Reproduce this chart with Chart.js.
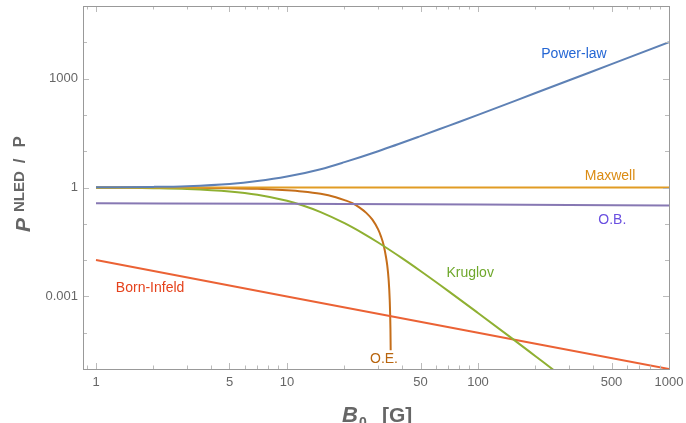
<!DOCTYPE html>
<html>
<head>
<meta charset="utf-8">
<script src="https://cdn.jsdelivr.net/npm/chart.js@4.4.1/dist/chart.umd.min.js"></script>
<style>
    html, body { margin: 0; padding: 0; background: #fff; }
</style>
</head>
<body>
<canvas id="chart" width="686" height="423"></canvas>
<script>
/*global Chart*/
(function () {
    "use strict";

    // B0 [G] and P^NLED / P
    var powerLawB = [1, 2, 3, 5, 7, 10, 15, 20, 30, 50, 70, 100, 200, 300, 500, 1000];
    var powerLawP = [1.01, 1.04, 1.09, 1.25, 1.5, 2, 3.2, 5, 10, 26, 50, 100, 400, 900, 2500, 10000];

    var maxwellB = [1, 1000];
    var maxwellP = [1, 1];

    var obB = [1, 10, 100, 1000];
    var obP = [0.37, 0.355, 0.34, 0.32];

    var kruglovB = [1, 1.5, 2, 3, 5, 7, 10, 12, 15, 20, 25, 30, 40, 50, 70, 100, 150, 200, 250, 300];
    var kruglovP = [0.99, 0.977, 0.959, 0.912, 0.781, 0.633, 0.43, 0.324, 0.21, 0.104, 0.0546, 0.0305,
        0.0113, 0.005, 0.0014, 0.00035, 0.000071, 0.0000225, 0.0000092, 0.0000045];

    var bornInfeldB = [1, 10, 100, 1000];
    var bornInfeldP = [0.01, 0.001, 0.0001, 0.00001];

    var oeB = [1, 2, 3, 5, 7, 10, 12, 15, 18, 20, 22, 24, 26, 28, 30, 31, 32, 33, 33.5, 34, 34.5, 34.8, 34.9];
    var oeP = [0.998, 0.994, 0.985, 0.96, 0.92, 0.84, 0.78, 0.67, 0.54, 0.45, 0.37, 0.28, 0.2, 0.13,
        0.07, 0.046, 0.027, 0.012, 0.007, 0.0032, 0.0008, 0.00013, 0.000033];

    var xTicks = [0.9, 1, 2, 3, 4, 5, 6, 7, 8, 9, 10, 20, 30, 40, 50, 60, 70, 80, 90,
        100, 200, 300, 400, 500, 600, 700, 800, 900, 1000];
    var xTickLabels = [1, 5, 10, 50, 100, 500, 1000];
    var yTicks = [1e-5, 1e-4, 0.001, 0.01, 0.1, 1, 10, 100, 1000, 1e4, 1e5];
    var yTickLabels = [0.001, 1, 1000];

    var curveNames = ["Power-law", "Maxwell", "O.B.", "Kruglov", "Born-Infeld", "O.E."];

    var zip = function (xs, ys) {
        return xs.map(function (x, i) {
            return {x: x, y: ys[i]};
        });
    };

    var series = [
        {data: zip(powerLawB, powerLawP), color: "#5E81B5"},
        {data: zip(maxwellB, maxwellP), color: "#E19C24"},
        {data: zip(obB, obP), color: "#8778B3"},
        {data: zip(kruglovB, kruglovP), color: "#8FB032"},
        {data: zip(bornInfeldB, bornInfeldP), color: "#EB6235"},
        {data: zip(oeB, oeP), color: "#C56E1A"}
    ];

    // where each curve's name sits, in data coordinates
    var labelSpots = [
        {x: 318, y: 4700, color: "#2466D4"},
        {x: 491, y: 2.0, color: "#DB8C14"},
        {x: 505, y: 0.13, color: "#6A4FE0"},
        {x: 91, y: 0.0045, color: "#6FA82C"},
        {x: 1.92, y: 0.0017, color: "#E5421C"},
        {x: 32.2, y: 0.000019, color: "#B8650F"}
    ];

    var frame = {
        id: "frame",
        afterDatasetsDraw: function (chart) {
            var ctx = chart.ctx,
                a = chart.chartArea,
                sx = chart.scales.x,
                sy = chart.scales.y;

            ctx.save();
            ctx.strokeStyle = "#bbb";
            ctx.lineWidth = 1;
            ctx.beginPath();
            xTicks.forEach(function (v) {
                var px = Math.round(sx.getPixelForValue(v)) + 0.5,
                    len = xTickLabels.indexOf(v) >= 0 ? 6 : 3.5;
                ctx.moveTo(px, a.bottom);
                ctx.lineTo(px, a.bottom - len);
                ctx.moveTo(px, a.top);
                ctx.lineTo(px, a.top + len);
            });
            yTicks.forEach(function (v) {
                var py = Math.round(sy.getPixelForValue(v)) + 0.5,
                    len = yTickLabels.indexOf(v) >= 0 ? 6 : 4;
                ctx.moveTo(a.left, py);
                ctx.lineTo(a.left + len, py);
                ctx.moveTo(a.right, py);
                ctx.lineTo(a.right - len, py);
            });
            ctx.stroke();

            ctx.strokeStyle = "#999";
            ctx.strokeRect(Math.round(a.left) + 0.5, Math.round(a.top) + 0.5,
                Math.round(a.right - a.left), Math.round(a.bottom - a.top));

            // curve names
            ctx.font = "14px 'Liberation Sans', Arial, sans-serif";
            ctx.textAlign = "center";
            ctx.textBaseline = "middle";
            curveNames.forEach(function (name, i) {
                ctx.fillStyle = labelSpots[i].color;
                ctx.fillText(name, sx.getPixelForValue(labelSpots[i].x), sy.getPixelForValue(labelSpots[i].y));
            });

            // axis titles
            ctx.fillStyle = "#666";
            ctx.textAlign = "left";
            ctx.textBaseline = "alphabetic";
            var x = 342;
            ctx.font = "italic bold 22px 'Liberation Sans', Arial, sans-serif";
            ctx.fillText("B", x, 422);
            x += ctx.measureText("B").width + 1;
            ctx.font = "bold 14px 'Liberation Sans', Arial, sans-serif";
            ctx.fillText("0", x, 427);
            x = 382;
            ctx.font = "bold 21px 'Liberation Sans', Arial, sans-serif";
            ctx.fillText("[G]", x, 422);

            ctx.translate(30, 232);
            ctx.rotate(-Math.PI / 2);
            var t = 0;
            ctx.font = "italic bold 21px 'Liberation Sans', Arial, sans-serif";
            ctx.fillText("P", t, 0);
            t += ctx.measureText("P").width + 6;
            ctx.font = "bold 15px 'Liberation Sans', Arial, sans-serif";
            ctx.fillText("NLED", t, -6);
            t += ctx.measureText("NLED").width + 8;
            ctx.font = "bold 17px 'Liberation Sans', Arial, sans-serif";
            ctx.fillText("/", t, -5);
            t += ctx.measureText("/").width + 11;
            ctx.fillText("P", t, -5);
            ctx.restore();
        }
    };

    var tickFont = {family: "'Liberation Sans', Arial, sans-serif", size: 13};

    var ctx = window.document.getElementById("chart");
    new Chart(ctx, {
        type: "line",
        data: {
            datasets: series.map(function (s) {
                return {
                    data: s.data,
                    borderColor: s.color,
                    borderWidth: 2,
                    pointRadius: 0,
                    fill: false,
                    cubicInterpolationMode: "monotone"
                };
            })
        },
        options: {
            responsive: false,
            animation: false,
            events: [],
            layout: {padding: {top: 6, right: 17, left: 0, bottom: 0}},
            plugins: {legend: {display: false}, tooltip: {enabled: false}},
            scales: {
                x: {
                    type: "logarithmic",
                    min: 0.855,
                    max: 1000,
                    grid: {display: false, drawTicks: false},
                    border: {display: false},
                    afterBuildTicks: function (scale) {
                        scale.ticks = xTicks.map(function (v) {
                            return {value: v};
                        });
                    },
                    afterFit: function (scale) {
                        scale.height = 54;
                        scale.paddingLeft = 0;
                        scale.paddingRight = 0;
                    },
                    ticks: {
                        autoSkip: false,
                        maxRotation: 0,
                        padding: 6,
                        color: "#666",
                        font: tickFont,
                        callback: function (value) {
                            return xTickLabels.indexOf(value) >= 0 ? String(value) : "";
                        }
                    }
                },
                y: {
                    type: "logarithmic",
                    min: 1e-5,
                    max: 1e5,
                    grid: {display: false, drawTicks: false},
                    border: {display: false},
                    afterBuildTicks: function (scale) {
                        scale.ticks = yTicks.map(function (v) {
                            return {value: v};
                        });
                    },
                    afterFit: function (scale) {
                        scale.width = 83;
                        scale.paddingTop = 0;
                        scale.paddingBottom = 0;
                    },
                    ticks: {
                        autoSkip: false,
                        padding: 5,
                        color: "#666",
                        font: tickFont,
                        callback: function (value) {
                            return yTickLabels.indexOf(value) >= 0 ? String(value) : "";
                        }
                    }
                }
            }
        },
        plugins: [frame]
    });
}());
</script>
</body>
</html>
